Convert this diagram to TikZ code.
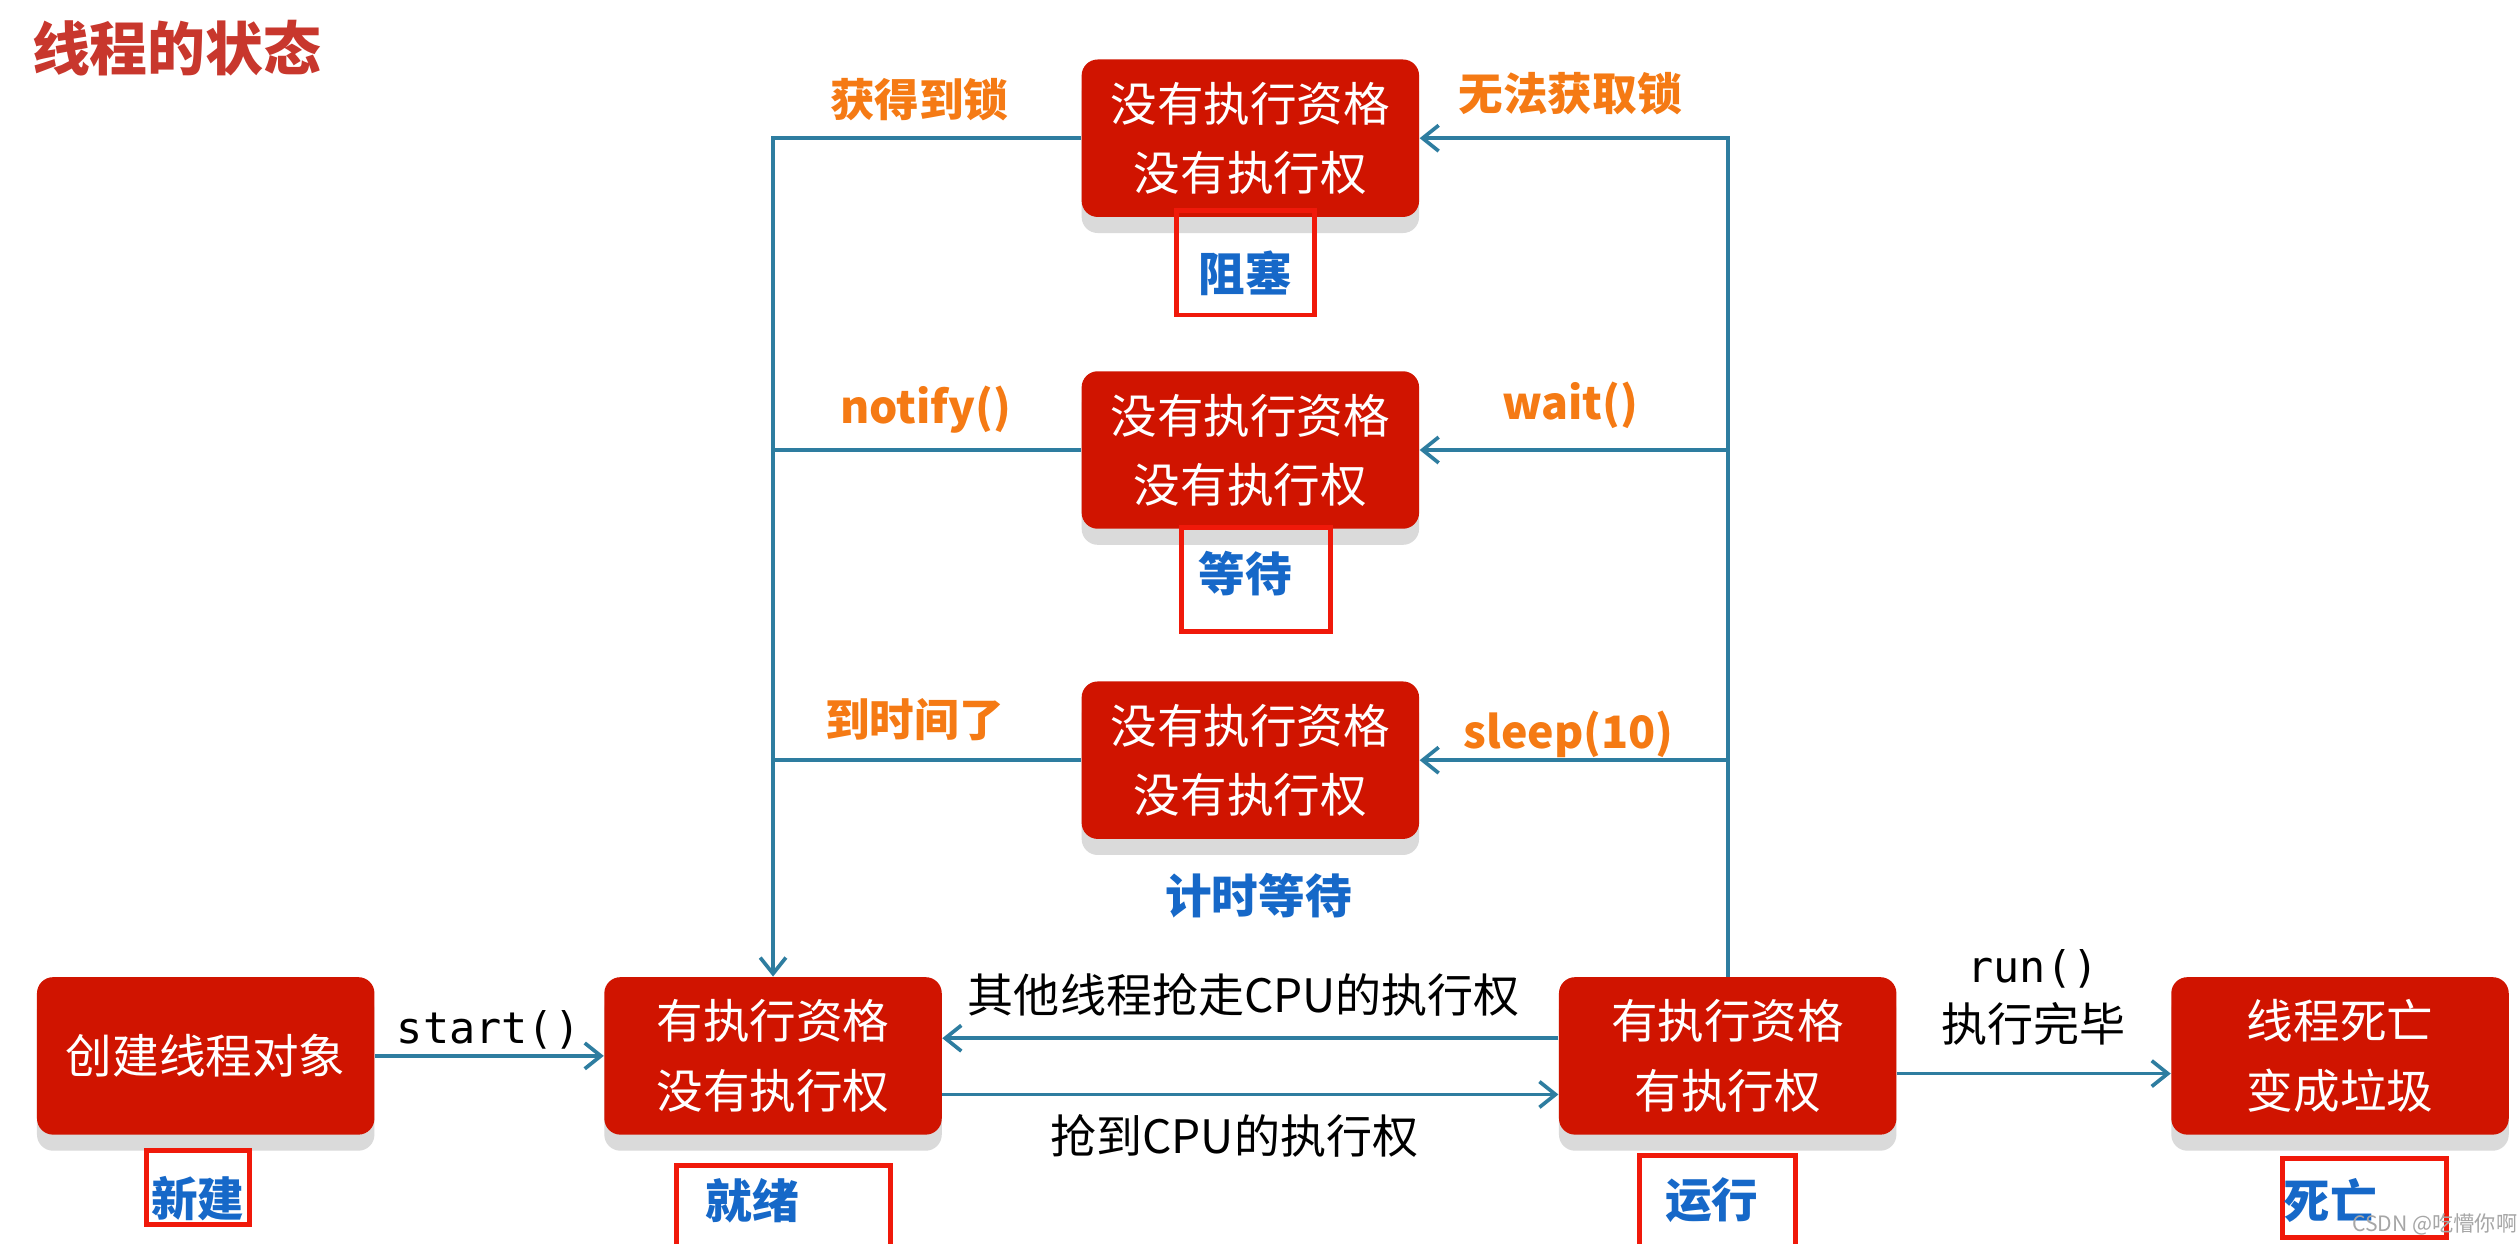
\documentclass[tikz,border=0pt]{standalone}
\usepackage{fontspec}
\setmainfont{Noto Sans CJK SC}
\setmonofont{DejaVu Sans Mono}
\usetikzlibrary{arrows.meta}

\definecolor{boxred}{RGB}{208,20,0}
\definecolor{shadowgray}{RGB}{218,218,218}
\definecolor{linkblue}{RGB}{46,125,160}
\definecolor{namblue}{RGB}{22,104,200}
\definecolor{tagorange}{RGB}{245,122,20}
\definecolor{titlered}{RGB}{200,55,45}
\definecolor{framered}{RGB}{240,25,10}

\begin{document}
\begin{tikzpicture}[x=0.02cm,y=-0.02cm,inner sep=0pt,
  state/.style={fill=boxred,text=white,rounded corners=0.2cm,
    minimum width=4.2cm,minimum height=1.96cm,align=center,
    font=\fontsize{16.5}{24.5}\selectfont,
    preaction={fill=shadowgray,transform canvas={yshift=-0.2cm}}},
  link/.style={draw=linkblue,line width=1.3pt},
  arr/.style={link,-{Straight Barb[length=0.2cm,width=0.32cm,line width=1.3pt]}},
  tag/.style={text=tagorange,font=\fontsize{15.8}{18}\bfseries\selectfont},
  stname/.style={text=namblue,font=\fontsize{16.5}{20}\bfseries\selectfont},
  frame/.style={draw=framered,line width=1.7pt},
  note/.style={font=\fontsize{16.3}{19}\selectfont}]

\useasboundingbox[fill=white] (0,0) rectangle (1568,774);

\node[text=titlered,font=\fontsize{20.5}{24}\bfseries\selectfont] (title) at (110,30) {线程的状态};

\node[state] (blk) at (778,86) {没有执行资格\\没有执行权};
\node[state] (wai) at (778,280) {没有执行资格\\没有执行权};
\node[state] (tim) at (778,473) {没有执行资格\\没有执行权};

\node[state] (new) at (128,657) {创建线程对象};
\node[state] (rdy) at (481,657) {有执行资格\\没有执行权};
\node[state] (run) at (1075,657) {有执行资格\\有执行权};
\node[state] (dead) at (1456,657) {线程死亡\\变成垃圾};

\draw[arr] (new.east) -- (rdy.west);
\draw[arr] ([yshift=0.22cm]run.west) -- ([yshift=0.22cm]rdy.east);
\draw[arr] ([yshift=-0.48cm]rdy.east) -- ([yshift=-0.48cm]run.west);
\draw[arr] ([yshift=-0.22cm]run.east) -- ([yshift=-0.22cm]dead.west);

\draw[arr] (run.north) |- (blk.east);
\draw[arr] (run.north |- wai.east) -- (wai.east);
\draw[arr] (run.north |- tim.east) -- (tim.east);

\draw[arr] (blk.west) -| (rdy.north);
\draw[link] (wai.west) -- (wai.west -| rdy.north);
\draw[link] (tim.west) -- (tim.west -| rdy.north);

\node[tag] (t1) at (572,62) {获得到锁};
\node[tag] (t2) at (977,58) {无法获取锁};
\node[tag] (t3) at (576,255) {notify()};
\node[tag] (t4) at (977,252) {wait()};
\node[tag] (t5) at (569,448) {到时间了};
\node[tag] (t6) at (976,457) {sleep(10)};

\node[note,font=\fontsize{15.4}{18}\ttfamily] (n1) at (304,641) {start()};
\node[note] (n2) at (774,619) {其他线程抢走CPU的执行权};
\node[note] (n3) at (768,707) {抢到CPU的执行权};
\node[note,font=\fontsize{15.4}{18}\ttfamily] (n4) at (1265,603) {run()};
\node[note] (n5) at (1265,637) {执行完毕};

\draw[frame] (732,131) rectangle (818,196);
\draw[frame] (735,328) rectangle (828,393);
\draw[frame] (91,716) rectangle (155,762);
\draw[frame] (421,725) rectangle (554,780);
\draw[frame] (1020,719) rectangle (1117,780);
\draw[frame] (1420,721) rectangle (1522,770);

\node[stname] (s1) at (775,170) {阻塞};
\node[stname] (s2) at (775,357) {等待};
\node[stname] (s3) at (783,557) {计时等待};
\node[stname] (s4) at (123,746) {新建};
\node[stname] (s5) at (468,747) {就绪};
\node[stname] (s6) at (1065,747) {运行};
\node[stname] (s7) at (1450,747) {死亡};

\node[text=black!35,font=\fontsize{7.5}{9}\selectfont] (wm) at (1515,762) {CSDN @吃懵你啊};

\end{tikzpicture}
\end{document}
